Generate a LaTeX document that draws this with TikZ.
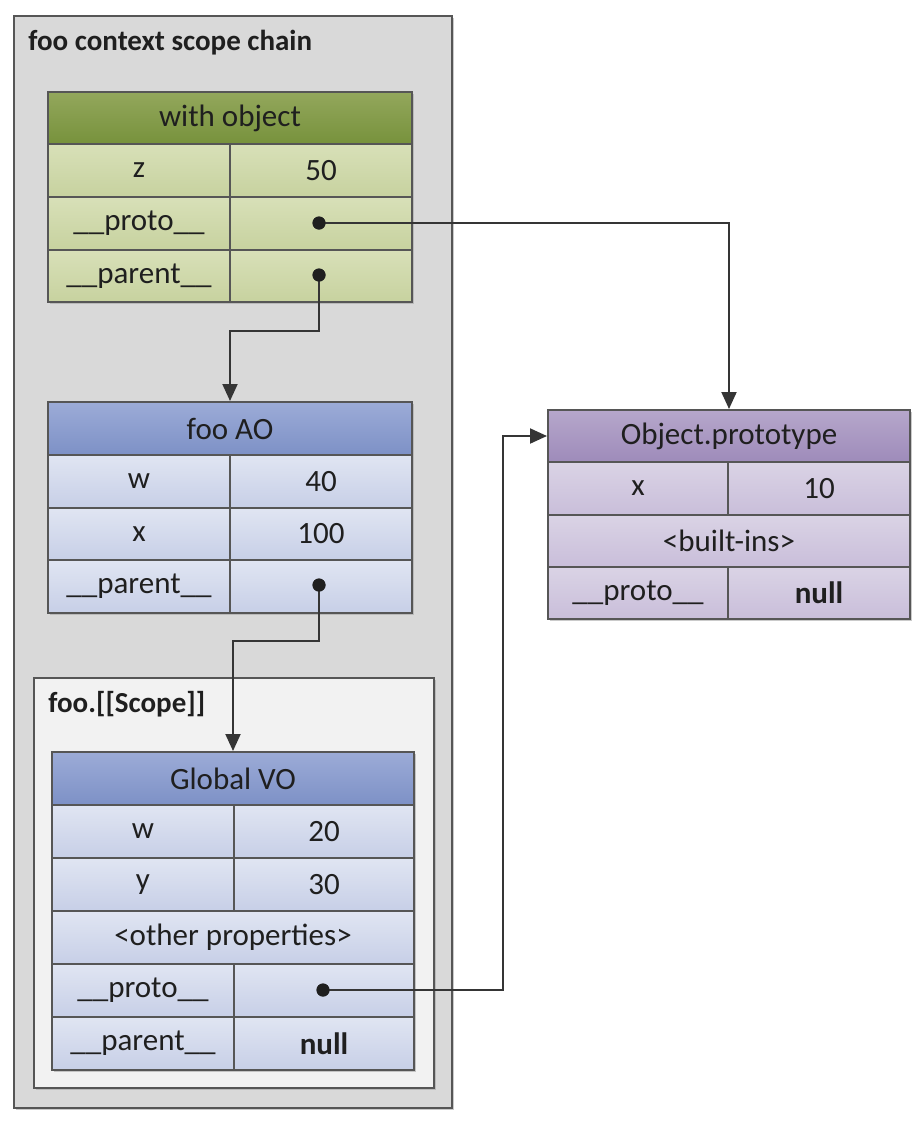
\documentclass[tikz,border=0pt]{standalone}
\usepackage{fontspec}
\setmainfont{Carlito}
\usetikzlibrary{arrows.meta,calc}
\definecolor{linec}{HTML}{565656}
\definecolor{txtc}{HTML}{1F1F1F}
\definecolor{outerc}{HTML}{D9D9D9}
\definecolor{innerc}{HTML}{F2F2F2}
\definecolor{shadc}{HTML}{A6A6A6}
\definecolor{ghtop}{HTML}{93A75C}
\definecolor{ghbot}{HTML}{77923C}
\definecolor{grtop}{HTML}{D8E0B8}
\definecolor{grbot}{HTML}{C7D29F}
\definecolor{bhtop}{HTML}{9CABD7}
\definecolor{bhbot}{HTML}{7D91C6}
\definecolor{brtop}{HTML}{E0E5F2}
\definecolor{brbot}{HTML}{C7CFE7}
\definecolor{phtop}{HTML}{B6A7CB}
\definecolor{phbot}{HTML}{9E8BBA}
\definecolor{prtop}{HTML}{DAD3E5}
\definecolor{prbot}{HTML}{C9BEDA}
\newcommand\mkcell[7]{\node[cellbox,#2,minimum width=#5*0.5pt,minimum height=#6*0.5pt] (#1) at (#3,#4) {#7};}
\begin{document}
\begin{tikzpicture}[x=0.5pt,y=-0.5pt,
  plainbox/.style={rectangle,inner sep=0pt,anchor=north west,draw=linec,line width=1pt},
  cellbox/.style={plainbox,font=\fontsize{15.5}{18}\selectfont,text=txtc},
  greenhead/.style={top color=ghtop,bottom color=ghbot},
  greenrow/.style={top color=grtop,bottom color=grbot},
  bluehead/.style={top color=bhtop,bottom color=bhbot},
  bluerow/.style={top color=brtop,bottom color=brbot},
  purplehead/.style={top color=phtop,bottom color=phbot},
  purplerow/.style={top color=prtop,bottom color=prbot},
  ttl/.style={anchor=west,inner sep=0pt,font=\fontsize{14.5}{17}\selectfont\bfseries,text=txtc},
  pdot/.style={circle,fill=txtc,inner sep=0pt,minimum size=6.5pt},
  conn/.style={draw=txtc!90,line width=1pt},
  arr/.style={conn,-{Triangle[width=7.5pt,length=8.5pt]}},
  shadowbox/.style={fill=shadc,opacity=0.6}
]
\useasboundingbox (0,0) rectangle (922,1130);
% containers
\fill[shadowbox] (16,18) rectangle (454,1110);
\node[plainbox,fill=outerc,minimum width=438*0.5pt,minimum height=1092*0.5pt] (outer) at (13,15) {};
\node[ttl] (t1) at (28,43) {foo context scope chain};
\fill[shadowbox] (36,680) rectangle (436,1090);
\node[plainbox,fill=innerc,minimum width=400*0.5pt,minimum height=410*0.5pt] (scopebox) at (33,677) {};
\node[ttl] (t2) at (48,704) {foo.[[Scope]]};
% with object
\fill[shadowbox] (50,94) rectangle (414,304);
\mkcell{wh}{greenhead}{47}{91}{364}{52}{with object}
\mkcell{wza}{greenrow}{47}{143}{182}{53}{z}
\mkcell{wzb}{greenrow}{229}{143}{182}{53}{50}
\mkcell{wpa}{greenrow}{47}{196}{182}{53}{\_\_proto\_\_}
\mkcell{wpb}{greenrow}{229}{196}{182}{53}{}
\mkcell{wqa}{greenrow}{47}{249}{182}{52}{\_\_parent\_\_}
\mkcell{wqb}{greenrow}{229}{249}{182}{52}{}
% foo AO
\fill[shadowbox] (50,404) rectangle (414,615);
\mkcell{ah}{bluehead}{47}{401}{364}{53}{foo AO}
\mkcell{awa}{bluerow}{47}{454}{182}{53}{w}
\mkcell{awb}{bluerow}{229}{454}{182}{53}{40}
\mkcell{axa}{bluerow}{47}{507}{182}{52}{x}
\mkcell{axb}{bluerow}{229}{507}{182}{52}{100}
\mkcell{aqa}{bluerow}{47}{559}{182}{53}{\_\_parent\_\_}
\mkcell{aqb}{bluerow}{229}{559}{182}{53}{}
% Global VO
\fill[shadowbox] (54,754) rectangle (416,1072);
\mkcell{gh}{bluehead}{51}{751}{362}{53}{Global VO}
\mkcell{gwa}{bluerow}{51}{804}{182}{53}{w}
\mkcell{gwb}{bluerow}{233}{804}{180}{53}{20}
\mkcell{gya}{bluerow}{51}{857}{182}{53}{y}
\mkcell{gyb}{bluerow}{233}{857}{180}{53}{30}
\mkcell{gop}{bluerow}{51}{910}{362}{53}{<other properties>}
\mkcell{gpa}{bluerow}{51}{963}{182}{53}{\_\_proto\_\_}
\mkcell{gpb}{bluerow}{233}{963}{180}{53}{}
\mkcell{gqa}{bluerow}{51}{1016}{182}{53}{\_\_parent\_\_}
\mkcell{gqb}{bluerow}{233}{1016}{180}{53}{\textbf{null}}
% Object.prototype
\fill[shadowbox] (550,412) rectangle (912,621);
\mkcell{oh}{purplehead}{547}{409}{362}{52}{Object.prototype}
\mkcell{oxa}{purplerow}{547}{461}{180}{53}{x}
\mkcell{oxb}{purplerow}{727}{461}{182}{53}{10}
\mkcell{obi}{purplerow}{547}{514}{362}{52}{<built-ins>}
\mkcell{opa}{purplerow}{547}{566}{180}{52}{\_\_proto\_\_}
\mkcell{opb}{purplerow}{727}{566}{182}{52}{\textbf{null}}
% dots
\node[pdot] (d1) at (319,223) {};
\node[pdot] (d2) at (319,275) {};
\node[pdot] (d3) at (319,585) {};
\node[pdot] (d4) at (323,990) {};
% connectors
\draw[arr] (d1.center) -| (oh.north);
\draw[arr] (d2.center) -- ++(0,56) -| (ah.north);
\draw[arr] (d3.center) -- ++(0,56) -| (gh.north);
\draw[arr] (d4.center) -| ([xshift=-22pt]oh.west) -- (oh.west);
\node[pdot] at (d1) {};
\node[pdot] at (d2) {};
\node[pdot] at (d3) {};
\node[pdot] at (d4) {};
\end{tikzpicture}
\end{document}
